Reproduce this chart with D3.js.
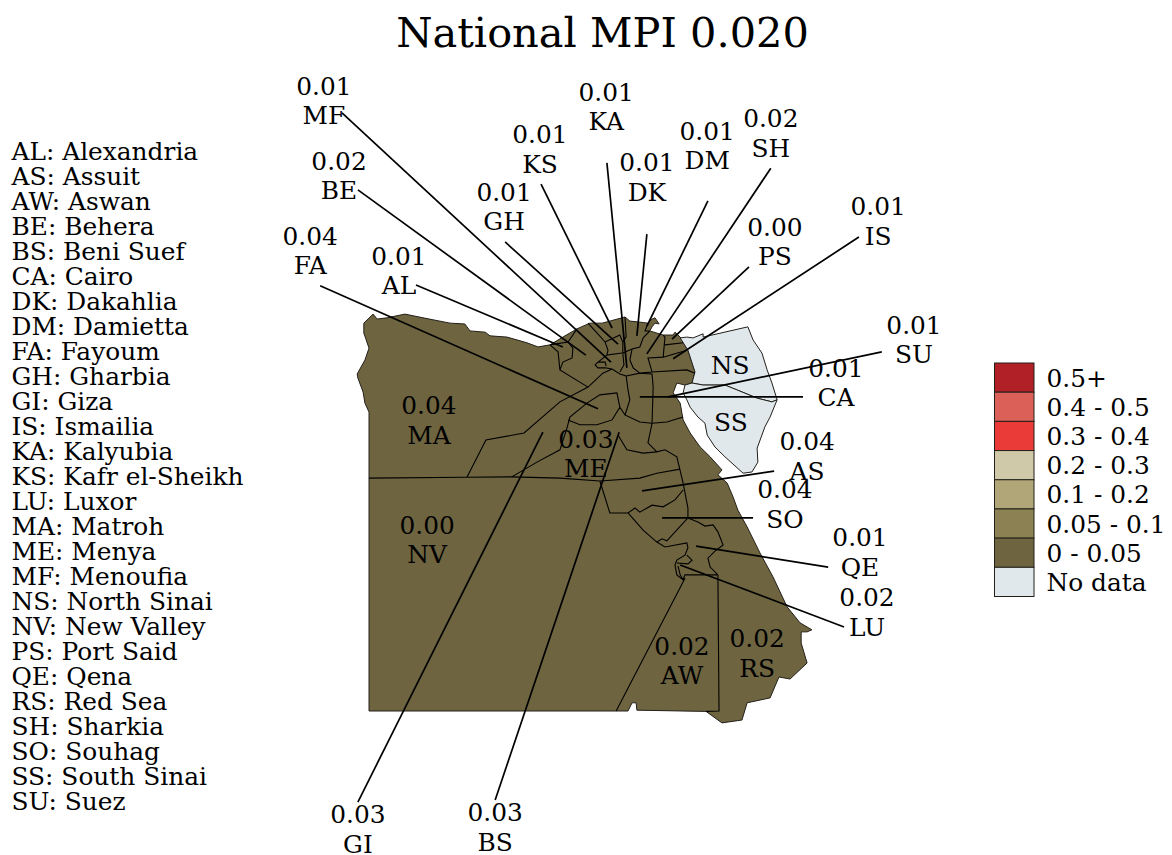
<!DOCTYPE html>
<html>
<head>
<meta charset="utf-8">
<script src="https://cdn.jsdelivr.net/npm/d3@7"></script>
<style>
  html, body { margin: 0; padding: 0; background: #fff; }
  svg { display: block; }
  text { font-family: "DejaVu Serif", serif; fill: #000; }
</style>
</head>
<body>
<svg id="map" width="1172" height="855"></svg>
<script>
// Governorates, in the order of the key on the left.
var codes = ['AL','AS','AW','BE','BS','CA','DK','DM','FA','GH','GI','IS','KA','KS','LU','MA','ME','MF','NS','NV','PS','QE','RS','SH','SO','SS','SU'];
var names = ['Alexandria','Assuit','Aswan','Behera','Beni Suef','Cairo','Dakahlia','Damietta','Fayoum','Gharbia','Giza','Ismailia','Kalyubia','Kafr el-Sheikh','Luxor','Matroh','Menya','Menoufia','North Sinai','New Valley','Port Said','Qena','Red Sea','Sharkia','Souhag','South Sinai','Suez'];
var mpiValues = [0.01,0.04,0.02,0.02,0.03,0.01,0.01,0.01,0.04,0.01,0.03,0.01,0.01,0.01,0.02,0.04,0.03,0.01,null,0.00,0.00,0.01,0.02,0.02,0.04,null,0.01];
var nationalMpi = 0.020;

// Legend classes.
var classLabels = ['0.5+','0.4 - 0.5','0.3 - 0.4','0.2 - 0.3','0.1 - 0.2','0.05 - 0.1','0 - 0.05','No data'];
var classColors = ['#b11f27','#db6158','#ea3b39','#cfc9a9','#b0a678','#8c8152','#6e6440','#e1e8ec'];
var classBreaks = [0.05,0.1,0.2,0.3,0.4,0.5];

// Outlines, [lon, lat].
var mainlandRing = [[25,22],[25,29.29],[24.89,29.51],[24.84,29.78],[24.70,30.12],[24.68,30.22],[24.89,30.56],[25,30.85],[24.86,31.22],[24.86,31.46],[25.11,31.68],[25.22,31.56],[25.49,31.59],[25.97,31.68],[26.46,31.59],[27.19,31.46],[27.59,31.44],[27.73,31.27],[28.14,31.24],[28.27,31.15],[28.73,31.12],[29.27,30.98],[29.57,30.88],[29.89,30.93],[30.24,31.12],[30.62,31.32],[30.97,31.46],[31.30,31.46],[31.84,31.59],[31.92,31.61],[32.05,31.51],[32.27,31.49],[32.54,31.46],[32.65,31.56],[32.73,31.59],[32.84,31.44],[32.73,31.46],[32.65,31.37],[32.59,31.27],[32.95,31.17],[33.22,31.17],[33.27,31.24],[33.41,31.12],[33.62,30.80],[33.81,30.27],[33.73,30.00],[33.54,29.95],[33.32,30.00],[33.22,29.76],[33.41,29.51],[33.49,29.10],[33.68,28.78],[33.95,28.44],[34.22,28.20],[34.54,27.88],[34.43,27.76],[34.68,27.56],[34.84,27.22],[34.97,26.90],[35.22,26.49],[35.57,25.85],[35.92,25.27],[36.30,24.54],[36.65,24.15],[36.97,23.98],[36.84,23.93],[36.68,23.93],[36.68,23.66],[36.84,23.17],[36.38,22.78],[36.08,22.83],[35.84,22.32],[35.22,22.20],[35.08,21.78],[34.54,21.71],[34.11,21.99],[32.24,22.02],[32.22,22.20],[32.11,22.20],[32,22],[25,22]];
var northSinaiRing = [[33.41,31.10],[33.59,31.12],[33.76,31.10],[34.03,31.20],[34.03,31.12],[35.24,31.37],[35.38,31.05],[35.62,30.73],[35.76,30.32],[35.89,30.00],[36.03,29.59],[35.89,29.54],[35.49,29.63],[34.95,29.83],[34.62,29.95],[34.03,29.95],[33.73,30.00],[33.81,30.27],[33.62,30.80],[33.41,31.10]];
var southSinaiRing = [[33.73,30.00],[33.54,29.95],[33.49,29.76],[33.59,29.59],[33.68,29.41],[33.89,29.17],[34.08,29.02],[34.14,28.73],[34.35,28.44],[34.62,28.20],[35.11,27.80],[35.35,27.83],[35.51,28.07],[35.49,28.41],[35.70,28.93],[35.84,29.17],[36.03,29.59],[35.89,29.54],[35.49,29.63],[34.95,29.83],[34.62,29.95],[34.03,29.95],[33.73,30.00]];

// Borders between mainland governorates.
var borderLines = [
  [[25,27.68],[27.62,27.70],[28.86,27.71],[30.16,27.68],[31.24,27.61],[32.32,27.68],[32.78,27.80],[33.41,27.90]],
  [[27.65,27.71],[28.16,28.61],[29.19,28.78],[30.16,29.54],[30.92,29.90],[31.32,30.24],[31.57,30.34]],
  [[28.86,27.71],[29.54,28.07],[30.16,28.37],[30.35,28.90],[30.43,29.17],[30.89,29.51],[31.24,29.71],[31.70,29.76],[31.78,29.41],[31.92,29.22]],
  [[30.38,29.10],[30.70,28.98],[31.16,28.98],[31.57,29.10],[31.78,29.41]],
  [[31.57,30.34],[31.78,30.22],[31.95,30.17],[32.00,29.83],[32.05,29.59],[31.92,29.22],[32.32,29.05],[32.65,29.02],[33.05,29.05],[33.49,29.17]],
  [[31.95,30.17],[32.32,30.24],[32.65,30.22],[32.68,29.90],[32.65,29.02],[32.54,28.54],[32.78,28.32],[33.00,28.37],[33.32,28.20],[33.49,27.56],[33.62,26.95],[33.62,26.71]],
  [[32.65,30.27],[33.59,30.32],[33.81,30.24]],
  [[31.73,28.73],[31.97,28.37],[32.41,28.29],[32.78,28.32]],
  [[31.24,27.61],[31.51,26.83],[32.00,26.83],[32.19,26.95],[32.32,26.85],[32.65,27.02],[32.95,26.98],[33.27,27.15],[33.49,27.39]],
  [[32.00,26.83],[32.41,26.41],[32.78,26.12],[32.92,26.20],[33.05,26.15],[33.62,26.71]],
  [[32.78,26.12],[33.00,26.00],[33.59,26.10],[33.62,25.98],[33.54,25.80],[33.32,25.68],[33.27,25.56],[33.32,25.32],[33.49,25.20],[33.54,25.32],[34.43,25.32]],
  [[33.32,25.61],[33.62,25.59],[33.73,25.68],[33.59,25.80]],
  [[33.35,25.54],[33.41,25.32],[33.49,25.20]],
  [[33.54,25.24],[31.68,22.00]],
  [[34.43,25.32],[34.46,22.00],[34.11,21.99]],
  [[33.62,26.71],[33.89,26.61],[34.08,26.51],[34.30,26.54],[34.43,26.37],[34.57,26.05],[34.35,25.90],[34.16,25.73],[34.22,25.51],[34.43,25.32]],
  [[30.62,31.32],[30.38,31.00],[29.89,30.93]],
  [[29.89,30.93],[30.11,30.76],[30.16,30.32],[30.92,29.90]],
  [[30.38,31.00],[30.51,30.85],[30.49,30.61],[30.24,30.51],[30.16,30.32]],
  [[30.92,31.46],[31.16,31.22],[31.38,31.00],[31.46,30.80],[31.43,30.68],[31.84,30.73]],
  [[31.38,31.00],[31.78,31.17],[31.86,31.00],[31.86,30.73],[31.89,30.44],[31.78,30.27]],
  [[31.92,31.61],[31.95,31.12],[31.86,31.00]],
  [[31.57,30.34],[31.38,30.37],[31.19,30.37],[31.11,30.44],[31.19,30.51],[31.38,30.51],[31.41,30.41]],
  [[31.43,30.68],[31.19,30.51]],
  [[32.59,31.27],[32.41,31.10],[32.32,30.88],[32.11,30.83],[32.05,30.56],[32.14,30.37],[32.32,30.24],[32.65,30.27],[32.54,30.61],[32.95,30.63],[33.00,31.12],[32.95,31.17]],
  [[31.86,30.73],[32.11,30.83]],
  [[32.54,31.46],[32.46,31.27],[32.59,31.27]],
  [[32.95,30.63],[33.59,30.80]],
  [[33.00,30.93],[33.49,30.98]]
];

// Leader lines: which governorate, the point on the map and the free end.
var leaderCodes = ['AL','BE','MF','GH','KS','KA','DK','DM','SH','PS','IS','FA','GI','BS','SU','CA','AS','SO','QE','LU'];
var leaderAnchors = [[30.24,30.88],[30.86,30.68],[31.54,30.51],[31.73,30.95],[31.57,31.34],[31.97,30.37],[32.24,31.15],[32.51,31.39],[32.51,30.71],[33.19,31.07],[33.22,30.59],[31.19,29.37],[29.70,28.80],[31.76,28.80],[33.08,29.66],[32.32,29.66],[32.38,27.37],[32.92,26.71],[33.84,26.02],[33.41,25.56]];
var leaderEnds = [[26.27,32.39],[24.70,34.71],[24.27,36.59],[28.68,33.44],[29.65,34.85],[31.43,35.37],[32.51,33.63],[34.16,34.44],[35.86,35.24],[35.27,32.83],[38.24,33.56],[23.68,32.37],[24.70,19.78],[28.41,19.83],[38.86,30.76],[36.73,29.66],[35.95,27.85],[35.38,26.71],[37.41,25.51],[37.84,24.05]];

// Where each label sits, same order as codes.
var labelSpots = [[25.81,32.74],[36.84,28.21],[33.46,23.22],[24.19,35.05],[28.41,19.17],[37.62,30.01],[32.51,35.02],[34.14,35.79],[23.41,33.23],[28.65,34.30],[24.70,19.11],[38.76,33.94],[31.41,36.74],[29.62,35.70],[38.46,24.41],[26.62,29.09],[30.86,28.28],[23.78,36.89],[34.76,30.44],[26.57,26.18],[35.97,33.45],[38.27,25.87],[35.49,23.41],[35.86,36.09],[36.24,27.04],[34.78,29.05],[39.73,31.06]];

var FONT_SIZE = 24.85;

var svg = d3.select('#map');

var x = d3.scaleLinear().domain([25, 37]).range([369, 813]);
var y = d3.scaleLinear().domain([22, 31.65]).range([711, 315.35]);

var path = d3.geoPath(d3.geoTransform({
  point: function(lon, lat) { this.stream.point(x(lon), y(lat)); }
}));

var mpiColor = d3.scaleThreshold()
  .domain(classBreaks)
  .range(classColors.slice(0, 7).reverse());

var noDataColor = classColors[7];

var valueOf = function(code) {
  return mpiValues[codes.indexOf(code)];
};

var fillFor = function(value) {
  return value === null ? noDataColor : mpiColor(value);
};

var drawRegion = function(ring, value) {
  svg.append('path')
    .datum({type: 'Polygon', coordinates: [ring]})
    .attr('d', path)
    .attr('fill', fillFor(value))
    .attr('stroke', '#23201a')
    .attr('stroke-width', 1)
    .attr('stroke-linejoin', 'round');
};

svg.append('text')
  .attr('x', 602.5)
  .attr('y', 47)
  .attr('text-anchor', 'middle')
  .attr('font-size', 41.5)
  .text('National MPI ' + d3.format('.3f')(nationalMpi));

// Map. All the mainland governorates fall in one class, so one fill is enough.
drawRegion(mainlandRing, valueOf('MA'));
drawRegion(northSinaiRing, valueOf('NS'));
drawRegion(southSinaiRing, valueOf('SS'));

svg.append('path')
  .datum({type: 'MultiLineString', coordinates: borderLines})
  .attr('d', path)
  .attr('fill', 'none')
  .attr('stroke', '#000')
  .attr('stroke-width', 1.1);

// Leader lines.
svg.selectAll('line.leader')
  .data(leaderCodes)
  .enter()
  .append('line')
  .attr('class', 'leader')
  .attr('x1', function(d, i) { return x(leaderEnds[i][0]); })
  .attr('y1', function(d, i) { return y(leaderEnds[i][1]); })
  .attr('x2', function(d, i) { return x(leaderAnchors[i][0]); })
  .attr('y2', function(d, i) { return y(leaderAnchors[i][1]); })
  .attr('stroke', '#000')
  .attr('stroke-width', 1.7);

// Value and code labels. Sinai has no value, only the code.
var labels = svg.selectAll('g.label')
  .data(codes)
  .enter()
  .append('g')
  .attr('class', 'label')
  .attr('transform', function(d, i) {
    return 'translate(' + x(labelSpots[i][0]) + ',' + y(labelSpots[i][1]) + ')';
  })
  .attr('text-anchor', 'middle')
  .attr('font-size', FONT_SIZE);

labels.append('text')
  .attr('y', -6)
  .text(function(d, i) {
    return mpiValues[i] === null ? '' : d3.format('.2f')(mpiValues[i]);
  });

labels.append('text')
  .attr('y', function(d, i) { return mpiValues[i] === null ? 9 : 23.5; })
  .text(function(d) { return d; });

// Key on the left.
var keyY = d3.scalePoint().domain(codes).range([151, 801]);

svg.selectAll('text.key')
  .data(codes)
  .enter()
  .append('text')
  .attr('class', 'key')
  .attr('x', 11.5)
  .attr('y', function(d) { return keyY(d) + 9; })
  .attr('font-size', FONT_SIZE)
  .text(function(d, i) { return d + ': ' + names[i]; });

// Colour legend.
var legendY = d3.scaleBand().domain(classLabels).range([363, 596.5]);

svg.selectAll('rect.swatch')
  .data(classLabels)
  .enter()
  .append('rect')
  .attr('class', 'swatch')
  .attr('x', 994.5)
  .attr('y', function(d) { return legendY(d); })
  .attr('width', 39.5)
  .attr('height', legendY.bandwidth())
  .attr('fill', function(d, i) { return classColors[i]; })
  .attr('stroke', '#23201a')
  .attr('stroke-width', 1);

svg.selectAll('text.legend')
  .data(classLabels)
  .enter()
  .append('text')
  .attr('class', 'legend')
  .attr('x', 1046.5)
  .attr('y', function(d) { return legendY(d) + legendY.bandwidth() / 2 + 9; })
  .attr('font-size', FONT_SIZE)
  .text(function(d) { return d; });
</script>
</body>
</html>
